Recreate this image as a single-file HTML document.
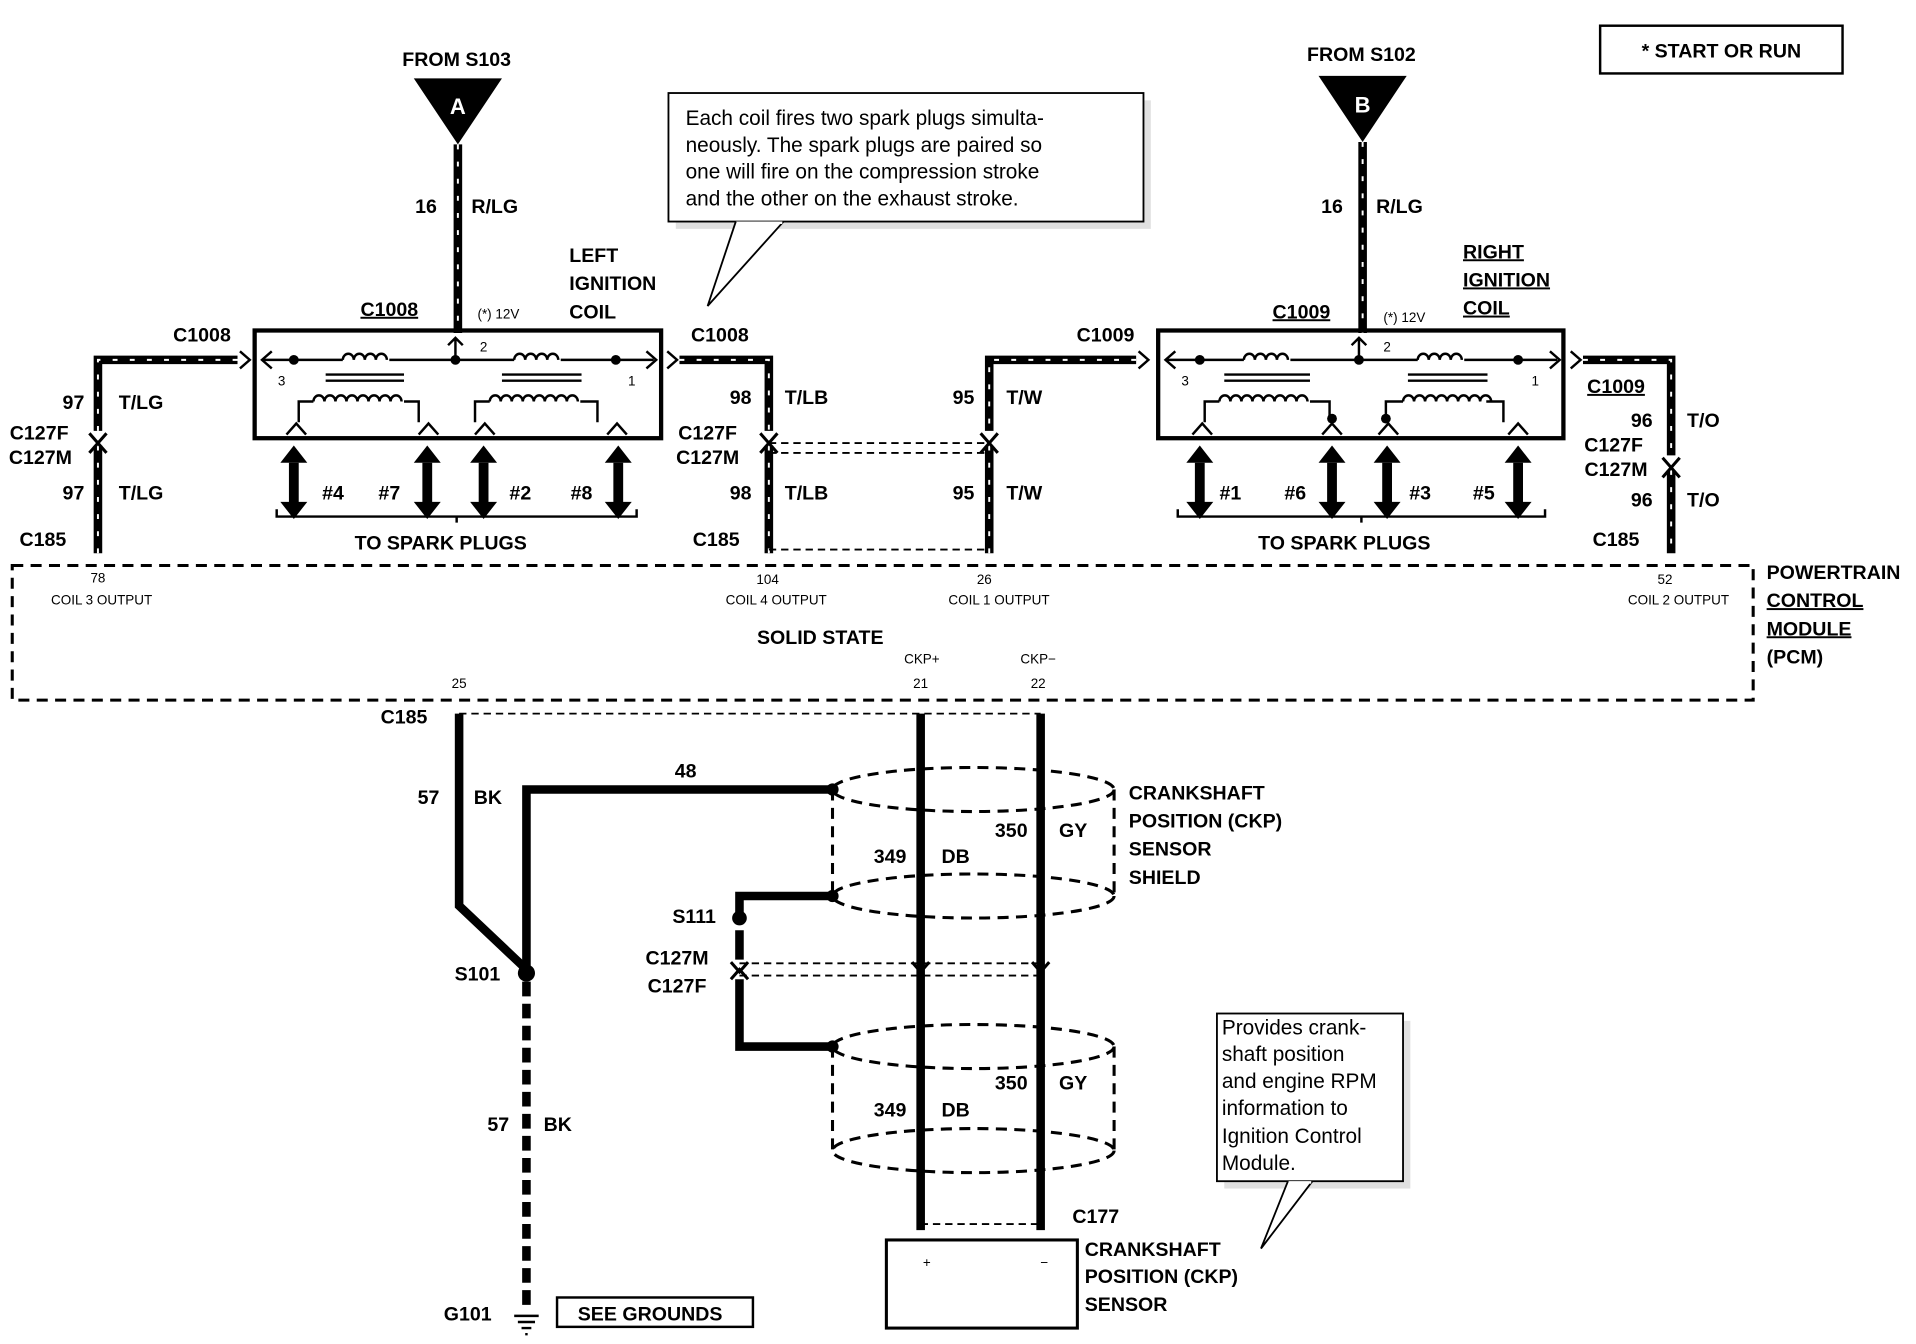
<!DOCTYPE html>
<html><head><meta charset="utf-8"><style>
html,body{margin:0;padding:0;background:#fff}
svg{display:block}
text{font-family:"Liberation Sans",Arial,sans-serif;font-weight:bold;font-size:16px;fill:#000}
.s{font-size:11px;font-weight:normal}
.n{font-weight:normal;font-size:17px}
.w{stroke:#000;stroke-width:7;fill:none}
.wd{stroke:#fff;stroke-width:1.6;fill:none;stroke-dasharray:4 10}
.t{stroke:#000;stroke-width:2;fill:none}
.d{stroke:#000;stroke-width:2.5;fill:none;stroke-dasharray:9 6}
.dt{stroke:#000;stroke-width:1.5;fill:none;stroke-dasharray:6 4}
</style></head><body>
<svg width="1916" height="1344" viewBox="0 0 1565 1098" preserveAspectRatio="none" xmlns="http://www.w3.org/2000/svg">
<defs>
<g id="darr"><path d="M-4,-12 h8 v34 h-8z" fill="#000"/><path d="M-11,-12 L0,-26 L11,-12z M-11,20 L0,34 L11,20z" fill="#000"/></g>
<g id="chevd"><path d="M-7,-4 L0,4 L7,-4" stroke="#000" stroke-width="2.5" fill="none"/></g>
</defs>

<!-- START OR RUN -->
<rect x="1307" y="21" width="198" height="39" class="t"/>
<text x="1406" y="47" text-anchor="middle">* START OR RUN</text>

<!-- LEFT feed -->
<text x="373" y="54" text-anchor="middle">FROM S103</text>
<path d="M338,64 L410,64 L374,118z" fill="#000"/>
<text x="374" y="93" text-anchor="middle" fill="#fff" style="fill:#fff;font-size:18px">A</text>
<path d="M374,118 V272" class="w"/><path d="M374,118 V272" class="wd"/>
<text x="348" y="174" text-anchor="middle">16</text><text x="385" y="174">R/LG</text>
<text x="318" y="258" text-anchor="middle" text-decoration="underline">C1008</text>
<text x="390" y="260" class="s">(*) 12V</text>
<text x="465" y="214">LEFT</text><text x="465" y="237">IGNITION</text><text x="465" y="260">COIL</text>

<!-- left coil box -->
<rect x="208" y="270" width="332" height="88" stroke="#000" stroke-width="3.5" fill="none"/>
<path d="M214,294 H280 M318,294 H420 M458,294 H534" class="t"/>
<path d="M280,294 a4.5 5 0 0 1 9,0 a4.5 5 0 0 1 9,0 a4.5 5 0 0 1 9,0 a4.5 5 0 0 1 9,0 M420,294 a4.5 5 0 0 1 9,0 a4.5 5 0 0 1 9,0 a4.5 5 0 0 1 9,0 a4.5 5 0 0 1 9,0" class="t"/>
<path d="M222,287 L214,294 L222,301 M528,287 L536,294 L528,301 M366,282 L372,276 L378,282 M372,276 V294" class="t"/>
<circle cx="240" cy="294" r="4"/><circle cx="372" cy="294" r="4"/><circle cx="503" cy="294" r="4"/>
<path d="M266,306 H330 M266,311 H330 M410,306 H475 M410,311 H475" class="t"/>
<path d="M244,345 V328 H256 M330,328 H342 V345 M388,345 V328 H400 M474,328 H488 V345" class="t"/>
<path d="M256,328 a4.5 5 0 0 1 9,0 a4.5 5 0 0 1 9,0 a4.5 5 0 0 1 9,0 a4.5 5 0 0 1 9,0 a4.5 5 0 0 1 9,0 a4.5 5 0 0 1 9,0 a4.5 5 0 0 1 9,0 a4.5 5 0 0 1 9,0 M400,328 a4.5 5 0 0 1 9,0 a4.5 5 0 0 1 9,0 a4.5 5 0 0 1 9,0 a4.5 5 0 0 1 9,0 a4.5 5 0 0 1 9,0 a4.5 5 0 0 1 9,0 a4.5 5 0 0 1 9,0 a4.5 5 0 0 1 9,0" class="t"/>
<path d="M234,355 L242,346 L250,355 M342,355 L350,346 L358,355 M388,355 L396,346 L404,355 M496,355 L504,346 L512,355" class="t"/>
<text x="230" y="315" class="s" text-anchor="middle">3</text><text x="395" y="287" class="s" text-anchor="middle">2</text><text x="516" y="315" class="s" text-anchor="middle">1</text>
<use href="#darr" x="240" y="390"/><use href="#darr" x="349" y="390"/><use href="#darr" x="395" y="390"/><use href="#darr" x="505" y="390"/>
<text x="272" y="408" text-anchor="middle">#4</text><text x="318" y="408" text-anchor="middle">#7</text><text x="425" y="408" text-anchor="middle">#2</text><text x="475" y="408" text-anchor="middle">#8</text>
<path d="M226,416 V422 H520 V416 M373,422 V427" class="t"/>
<text x="360" y="449" text-anchor="middle">TO SPARK PLUGS</text>

<!-- left outer wire -->
<text x="165" y="279" text-anchor="middle">C1008</text>
<path d="M196,287 L204,294 L196,301" class="t"/>
<path d="M194,294 H80 V352 M80,364 V452" class="w"/><path d="M194,294 H80 V352 M80,364 V452" class="wd"/>
<use href="#chevd" x="80" y="358"/><use href="#chevd" x="80" y="366" transform="rotate(180 80 366)"/>
<text x="60" y="334" text-anchor="middle">97</text><text x="97" y="334">T/LG</text>
<text x="32" y="359" text-anchor="middle">C127F</text><text x="33" y="379" text-anchor="middle">C127M</text>
<text x="60" y="408" text-anchor="middle">97</text><text x="97" y="408">T/LG</text>
<text x="35" y="446" text-anchor="middle">C185</text>

<!-- left coil right wire -->
<text x="588" y="279" text-anchor="middle">C1008</text>
<path d="M545,287 L553,294 L545,301" class="t"/>
<path d="M555,294 H628 V352 M628,364 V452" class="w"/><path d="M555,294 H628 V352 M628,364 V452" class="wd"/>
<use href="#chevd" x="628" y="358"/><use href="#chevd" x="628" y="366" transform="rotate(180 628 366)"/>
<text x="605" y="330" text-anchor="middle">98</text><text x="641" y="330">T/LB</text>
<text x="578" y="359" text-anchor="middle">C127F</text><text x="578" y="379" text-anchor="middle">C127M</text>
<text x="605" y="408" text-anchor="middle">98</text><text x="641" y="408">T/LB</text>
<text x="585" y="446" text-anchor="middle">C185</text>
<path d="M628,362 H808 M628,370 H808 M628,449 H808" class="dt"/>

<!-- C1009 wire -->
<text x="903" y="279" text-anchor="middle">C1009</text>
<path d="M930,287 L938,294 L930,301" class="t"/>
<path d="M928,294 H808 V352 M808,364 V452" class="w"/><path d="M928,294 H808 V352 M808,364 V452" class="wd"/>
<use href="#chevd" x="808" y="358"/><use href="#chevd" x="808" y="366" transform="rotate(180 808 366)"/>
<text x="787" y="330" text-anchor="middle">95</text><text x="822" y="330">T/W</text>
<text x="787" y="408" text-anchor="middle">95</text><text x="822" y="408">T/W</text>

<!-- callout 1 -->
<rect x="552" y="82" width="388" height="105" fill="#ccc" opacity="0.6"/>
<rect x="546" y="76" width="388" height="105" fill="#fff" stroke="#000" stroke-width="1.5"/>
<path d="M601,181 L578,250 L640,181" fill="#fff" stroke="#000" stroke-width="1.5"/>
<path d="M602,182 H639" stroke="#fff" stroke-width="2"/>
<text x="560" y="102" class="n">Each coil fires two spark plugs simulta-</text>
<text x="560" y="124" class="n">neously.  The spark plugs are paired so</text>
<text x="560" y="146" class="n">one will fire on the compression stroke</text>
<text x="560" y="168" class="n">and the other on the exhaust stroke.</text>

<!-- RIGHT feed -->
<text x="1112" y="50" text-anchor="middle">FROM S102</text>
<path d="M1077,62 L1149,62 L1113,116z" fill="#000"/>
<text x="1113" y="92" text-anchor="middle" style="fill:#fff;font-size:18px">B</text>
<path d="M1113,116 V272" class="w"/><path d="M1113,116 V272" class="wd"/>
<text x="1088" y="174" text-anchor="middle">16</text><text x="1124" y="174">R/LG</text>
<text x="1063" y="260" text-anchor="middle" text-decoration="underline">C1009</text>
<text x="1130" y="263" class="s">(*) 12V</text>
<text x="1195" y="211" text-decoration="underline">RIGHT</text><text x="1195" y="234" text-decoration="underline">IGNITION</text><text x="1195" y="257" text-decoration="underline">COIL</text>

<rect x="946" y="270" width="331" height="88" stroke="#000" stroke-width="3.5" fill="none"/>
<path d="M952,294 H1016 M1054,294 H1158 M1196,294 H1272" class="t"/>
<path d="M1016,294 a4.5 5 0 0 1 9,0 a4.5 5 0 0 1 9,0 a4.5 5 0 0 1 9,0 a4.5 5 0 0 1 9,0 M1158,294 a4.5 5 0 0 1 9,0 a4.5 5 0 0 1 9,0 a4.5 5 0 0 1 9,0 a4.5 5 0 0 1 9,0" class="t"/>
<path d="M960,287 L952,294 L960,301 M1266,287 L1274,294 L1266,301 M1104,282 L1110,276 L1116,282 M1110,276 V294" class="t"/>
<circle cx="980" cy="294" r="4"/><circle cx="1110" cy="294" r="4"/><circle cx="1240" cy="294" r="4"/>
<path d="M1000,306 H1070 M1000,311 H1070 M1150,306 H1215 M1150,311 H1215" class="t"/>
<path d="M984,345 V328 H996 M1070,328 H1086 V340 M1132,340 V328 H1146 M1214,328 H1228 V345" class="t"/>
<path d="M996,328 a4.5 5 0 0 1 9,0 a4.5 5 0 0 1 9,0 a4.5 5 0 0 1 9,0 a4.5 5 0 0 1 9,0 a4.5 5 0 0 1 9,0 a4.5 5 0 0 1 9,0 a4.5 5 0 0 1 9,0 a4.5 5 0 0 1 9,0 M1146,328 a4.5 5 0 0 1 9,0 a4.5 5 0 0 1 9,0 a4.5 5 0 0 1 9,0 a4.5 5 0 0 1 9,0 a4.5 5 0 0 1 9,0 a4.5 5 0 0 1 9,0 a4.5 5 0 0 1 9,0 a4.5 5 0 0 1 9,0" class="t"/>
<circle cx="1088" cy="342" r="4"/><circle cx="1132" cy="342" r="4"/>
<path d="M974,355 L982,346 L990,355 M1080,355 L1088,346 L1096,355 M1126,355 L1134,346 L1142,355 M1232,355 L1240,346 L1248,355" class="t"/>
<text x="968" y="315" class="s" text-anchor="middle">3</text><text x="1133" y="287" class="s" text-anchor="middle">2</text><text x="1254" y="315" class="s" text-anchor="middle">1</text>
<use href="#darr" x="980" y="390"/><use href="#darr" x="1088" y="390"/><use href="#darr" x="1133" y="390"/><use href="#darr" x="1240" y="390"/>
<text x="1005" y="408" text-anchor="middle">#1</text><text x="1058" y="408" text-anchor="middle">#6</text><text x="1160" y="408" text-anchor="middle">#3</text><text x="1212" y="408" text-anchor="middle">#5</text>
<path d="M962,416 V422 H1262 V416 M1112,422 V427" class="t"/>
<text x="1098" y="449" text-anchor="middle">TO SPARK PLUGS</text>

<path d="M1283,287 L1291,294 L1283,301" class="t"/>
<path d="M1293,294 H1365 V372 M1365,384 V452" class="w"/><path d="M1293,294 H1365 V372 M1365,384 V452" class="wd"/>
<use href="#chevd" x="1365" y="378"/><use href="#chevd" x="1365" y="386" transform="rotate(180 1365 386)"/>
<text x="1320" y="321" text-anchor="middle" text-decoration="underline">C1009</text>
<text x="1341" y="349" text-anchor="middle">96</text><text x="1378" y="349">T/O</text>
<text x="1318" y="369" text-anchor="middle">C127F</text><text x="1320" y="389" text-anchor="middle">C127M</text>
<text x="1341" y="414" text-anchor="middle">96</text><text x="1378" y="414">T/O</text>
<text x="1320" y="446" text-anchor="middle">C185</text>

<!-- PCM -->
<rect x="10" y="462" width="1422" height="110" class="d"/>
<text x="80" y="476" class="s" text-anchor="middle">78</text><text x="83" y="494" class="s" text-anchor="middle">COIL 3 OUTPUT</text>
<text x="627" y="477" class="s" text-anchor="middle">104</text><text x="634" y="494" class="s" text-anchor="middle">COIL 4 OUTPUT</text>
<text x="804" y="477" class="s" text-anchor="middle">26</text><text x="816" y="494" class="s" text-anchor="middle">COIL 1 OUTPUT</text>
<text x="1360" y="477" class="s" text-anchor="middle">52</text><text x="1371" y="494" class="s" text-anchor="middle">COIL 2 OUTPUT</text>
<text x="670" y="526" text-anchor="middle">SOLID STATE</text>
<text x="375" y="562" class="s" text-anchor="middle">25</text>
<text x="753" y="542" class="s" text-anchor="middle">CKP+</text><text x="752" y="562" class="s" text-anchor="middle">21</text>
<text x="848" y="542" class="s" text-anchor="middle">CKP−</text><text x="848" y="562" class="s" text-anchor="middle">22</text>
<text x="1443" y="473">POWERTRAIN</text><text x="1443" y="496" text-decoration="underline">CONTROL</text><text x="1443" y="519" text-decoration="underline">MODULE</text><text x="1443" y="542">(PCM)</text>

<!-- bottom -->
<text x="330" y="591" text-anchor="middle">C185</text>
<path d="M375,583 H850" class="dt"/>
<path d="M375,583 V740 L430,792" class="w"/>
<path d="M430,792 V645 H680" class="w"/>
<circle cx="430" cy="795" r="7"/>
<path d="M430,802 V1068" stroke="#000" stroke-width="7" stroke-dasharray="12 6" fill="none"/>
<text x="350" y="657" text-anchor="middle">57</text><text x="387" y="657">BK</text>
<text x="560" y="635" text-anchor="middle">48</text>
<text x="390" y="801" text-anchor="middle">S101</text>
<text x="407" y="924" text-anchor="middle">57</text><text x="444" y="924">BK</text>
<text x="382" y="1079" text-anchor="middle">G101</text>
<path d="M420,1075 H440 M423,1080 H437 M426,1085 H434 M429,1090 H431" stroke="#000" stroke-width="2"/>
<rect x="455" y="1060" width="160" height="24" class="t"/>
<text x="531" y="1079" text-anchor="middle">SEE GROUNDS</text>

<path d="M752,583 V1005 M850,583 V1005" stroke="#000" stroke-width="7"/>
<!-- shield 1 -->
<ellipse cx="795" cy="645" rx="115" ry="18" class="d"/>
<ellipse cx="795" cy="732" rx="115" ry="18" class="d"/>
<path d="M680,645 V732 M910,645 V732" class="d"/>
<circle cx="680" cy="645" r="5"/><circle cx="680" cy="732" r="5"/>
<text x="727" y="705" text-anchor="middle">349</text><text x="769" y="705">DB</text>
<text x="826" y="684" text-anchor="middle">350</text><text x="865" y="684">GY</text>
<text x="922" y="653">CRANKSHAFT</text><text x="922" y="676">POSITION (CKP)</text><text x="922" y="699">SENSOR</text><text x="922" y="722">SHIELD</text>
<path d="M680,732 H604 V748" class="w"/><circle cx="604" cy="750" r="6"/>
<text x="567" y="754" text-anchor="middle">S111</text>
<path d="M604,760 V784 M604,800 V855 H680" class="w"/>
<use href="#chevd" x="604" y="790"/><use href="#chevd" x="604" y="796" transform="rotate(180 604 796)"/>
<use href="#chevd" x="752" y="790"/><use href="#chevd" x="850" y="790"/>
<path d="M604,787 H850 M604,797 H850" class="dt"/>
<text x="553" y="788" text-anchor="middle">C127M</text><text x="553" y="811" text-anchor="middle">C127F</text>
<!-- shield 2 -->
<ellipse cx="795" cy="855" rx="115" ry="18" class="d"/>
<ellipse cx="795" cy="940" rx="115" ry="18" class="d"/>
<path d="M680,855 V940 M910,855 V940" class="d"/>
<circle cx="680" cy="855" r="5"/>
<text x="826" y="890" text-anchor="middle">350</text><text x="865" y="890">GY</text>
<text x="727" y="912" text-anchor="middle">349</text><text x="769" y="912">DB</text>
<path d="M752,1000 H850" class="dt"/>
<text x="895" y="999" text-anchor="middle">C177</text>
<rect x="724" y="1013" width="156" height="72" stroke="#000" stroke-width="2.5" fill="none"/>
<text x="757" y="1035" text-anchor="middle" class="s">+</text><text x="853" y="1035" text-anchor="middle" class="s">−</text>
<text x="886" y="1026">CRANKSHAFT</text><text x="886" y="1048">POSITION (CKP)</text><text x="886" y="1071">SENSOR</text>

<!-- callout 2 -->
<rect x="1000" y="834" width="152" height="137" fill="#ccc" opacity="0.6"/>
<rect x="994" y="828" width="152" height="137" fill="#fff" stroke="#000" stroke-width="1.5"/>
<path d="M1052,965 L1030,1020 L1072,965" fill="#fff" stroke="#000" stroke-width="1.5"/>
<path d="M1053,966 H1071" stroke="#fff" stroke-width="2"/>
<text x="998" y="845" class="n">Provides crank-</text>
<text x="998" y="867" class="n">shaft    position</text>
<text x="998" y="889" class="n">and engine RPM</text>
<text x="998" y="911" class="n">information    to</text>
<text x="998" y="934" class="n">Ignition  Control</text>
<text x="998" y="956" class="n">Module.</text>
</svg>
</body></html>
